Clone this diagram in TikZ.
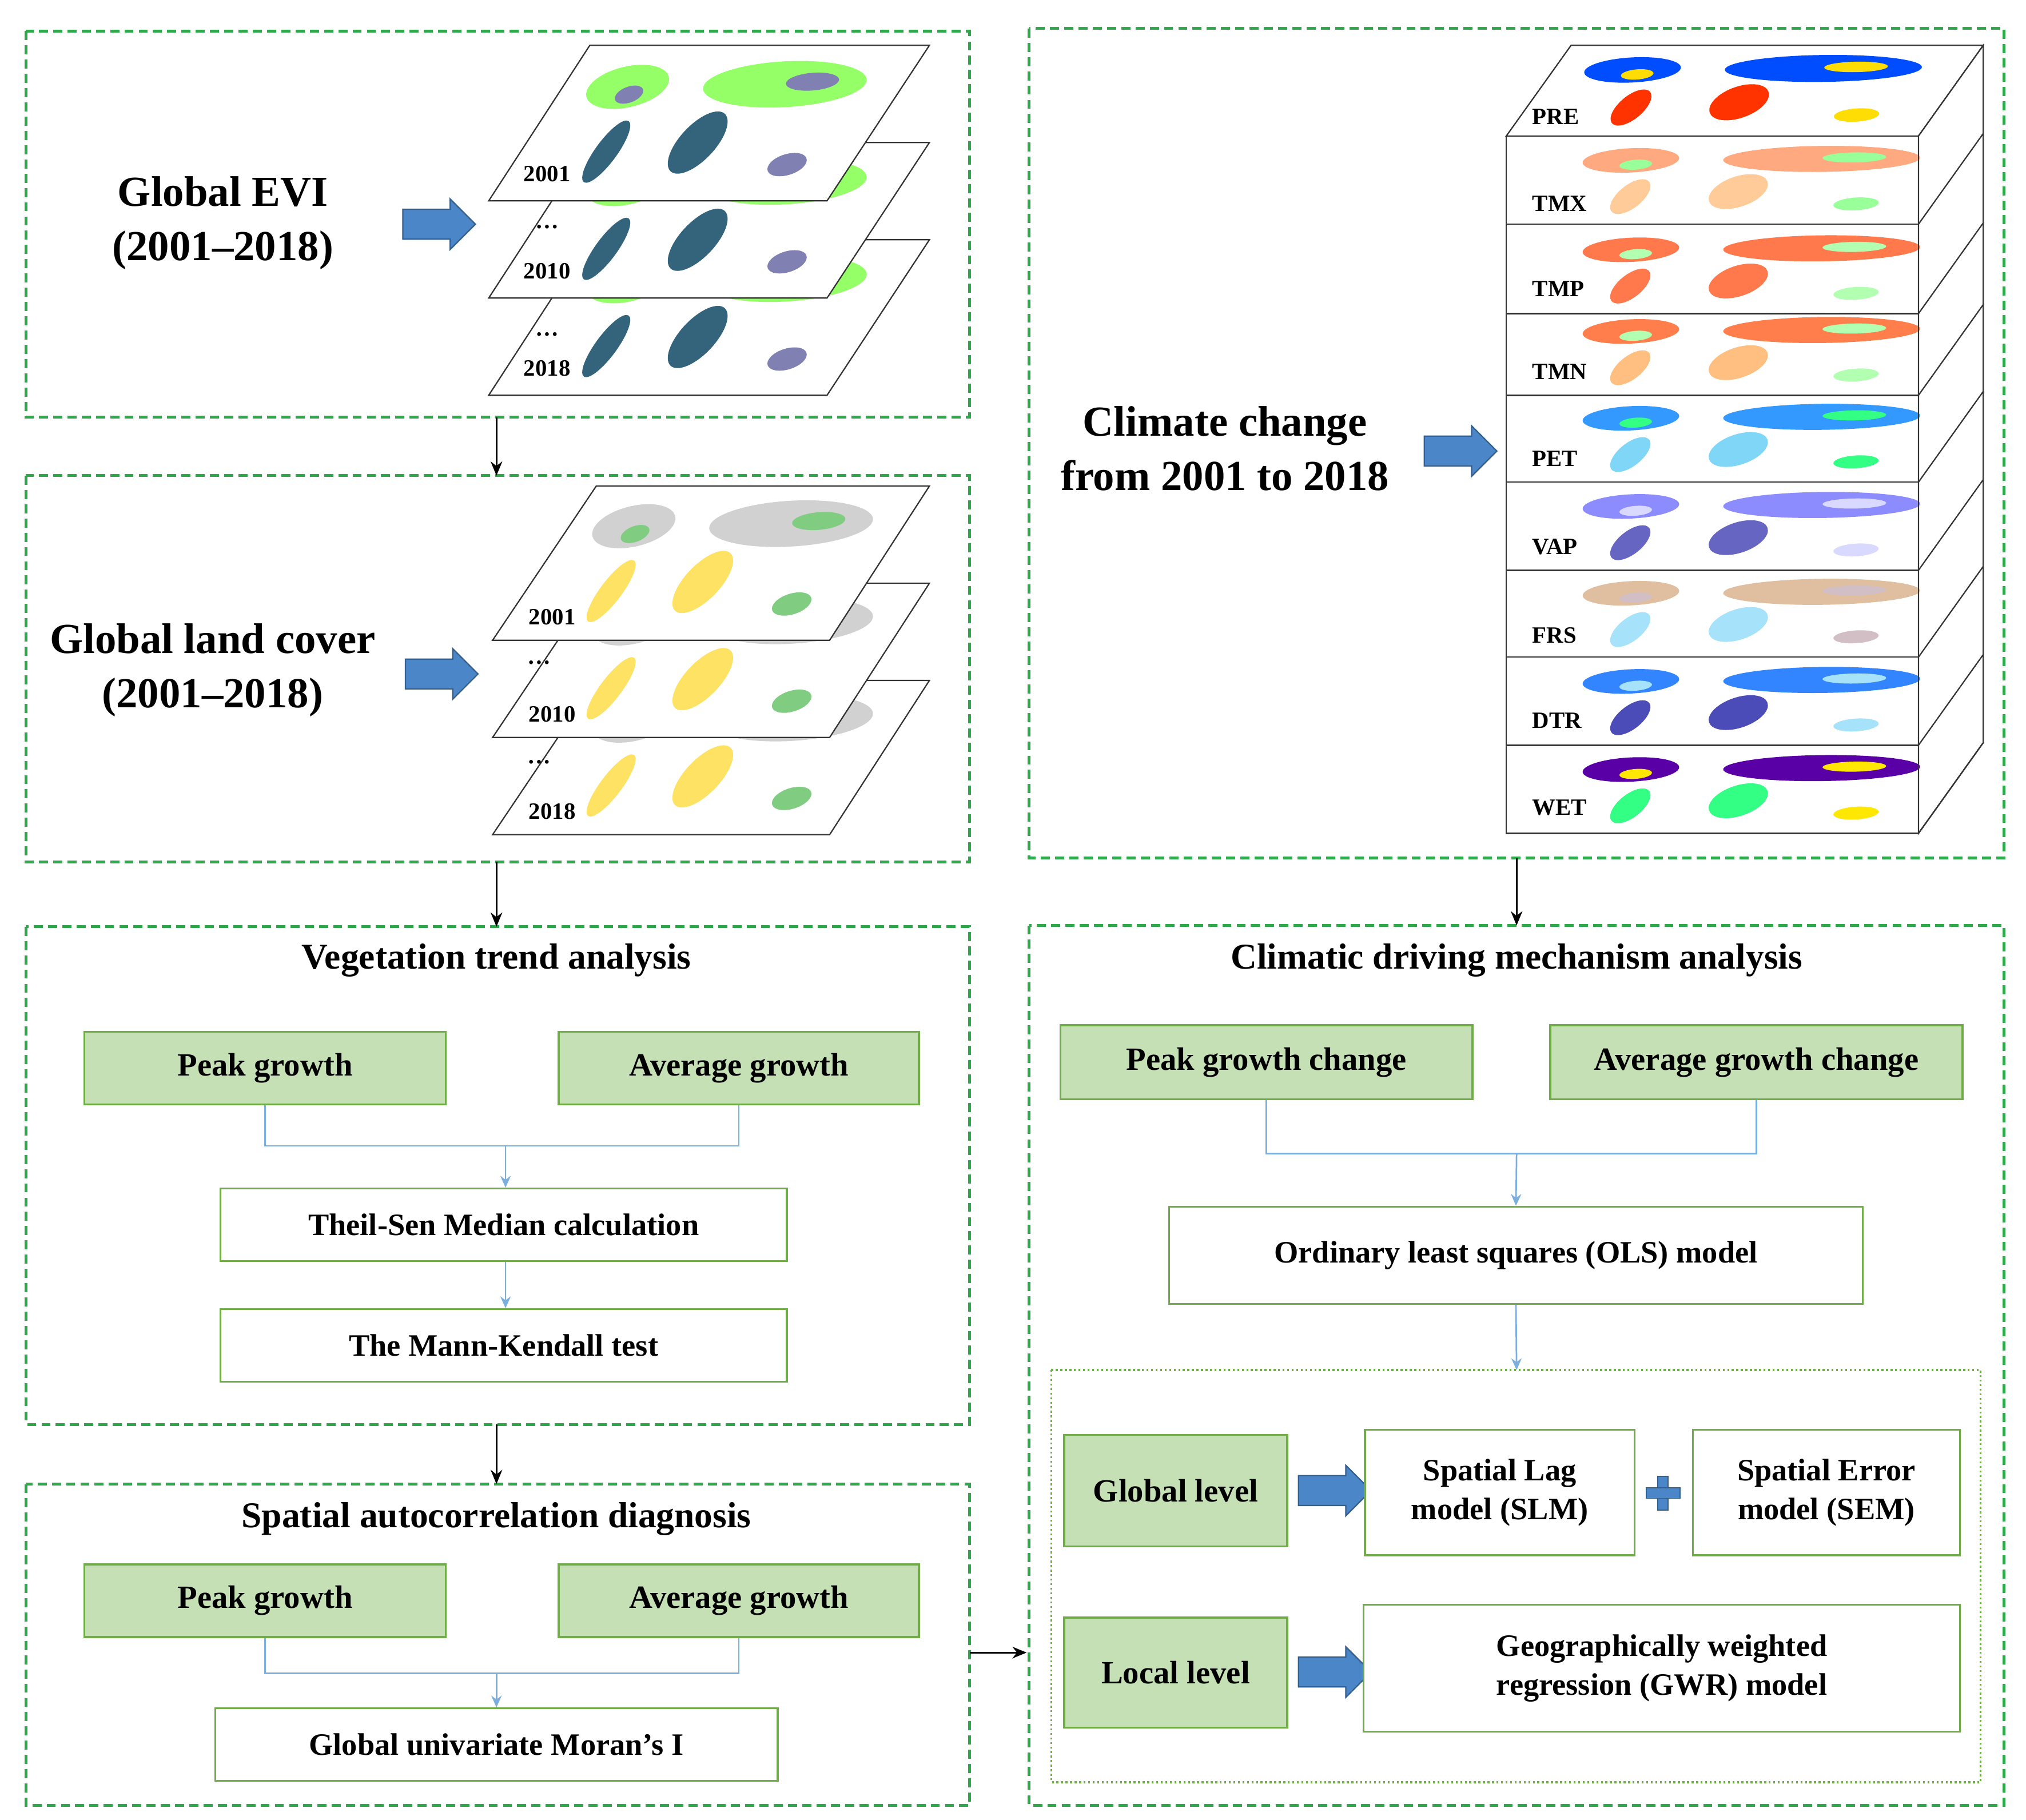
\documentclass[tikz,border=0pt]{standalone}
\usepackage{fontspec}
\setmainfont{Liberation Serif}
\usetikzlibrary{shapes.arrows,arrows.meta}
\definecolor{dgreen}{HTML}{2EA84A}
\definecolor{gfill}{HTML}{C5E0B4}
\definecolor{gdraw}{HTML}{70AD47}
\definecolor{lblue}{HTML}{5B9BD5}
\definecolor{ablue}{HTML}{4A86C8}
\newcommand\myblobs[3]{%
  \fill[#1] (50,-88) ellipse [x radius=30,y radius=17];
  \fill[#1] (170,-90) ellipse [x radius=62,y radius=18];
  \fill[#2] (66,-38) ellipse [x radius=10,y radius=24];
  \fill[#2] (132,-45) ellipse [x radius=17,y radius=24];
  \fill[#3] (212,-28) ellipse [x radius=14,y radius=9];
  \fill[#3] (55,-82) ellipse [x radius=10,y radius=7];
  \fill[#3] (190,-92) ellipse [x radius=20,y radius=7];}
\begin{document}
\begin{tikzpicture}[x=1pt,y=-1pt,
  dbox/.style={draw=dgreen,line width=2.2pt,dash pattern=on 7pt off 4pt},
  gbox/.style={draw=gdraw,fill=gfill,line width=1.5pt,font=\fontsize{25}{28}\selectfont\bfseries},
  wbox/.style={draw=gdraw,fill=white,line width=1.5pt,font=\fontsize{24}{30}\selectfont\bfseries,align=center},
  conn/.style={draw=lblue!80,line width=1.2pt},
  carr/.style={conn,-{Stealth[length=9pt,width=8pt]}},
  barr/.style={black,line width=1.2pt,-{Stealth[length=11pt,width=9pt]}},
  big/.style={single arrow,fill=ablue,draw=ablue!70!black,line width=1pt,minimum height=56pt,inner xsep=0pt,inner ysep=11pt,single arrow head extend=8pt,single arrow head indent=0pt},
  ttl/.style={font=\fontsize{33}{42}\selectfont\bfseries,align=center},
  hd/.style={font=\fontsize{28}{32}\selectfont\bfseries},
  lab/.style={font=\fontsize{18}{20}\selectfont\bfseries,inner sep=0pt},
  para/.style={draw=black!80,line width=1pt}]
\useasboundingbox (0,0) rectangle (1563,1404);
% dashed containers
\draw[dbox] (20,24) rectangle (748,322);
\draw[dbox] (20,367) rectangle (748,665);
\draw[dbox] (20,715) rectangle (748,1099);
\draw[dbox] (20,1145) rectangle (748,1393);
\draw[dbox] (794,22) rectangle (1546,662);
\draw[dbox] (794,714) rectangle (1546,1393);
\coordinate (b1s) at (383,322); \coordinate (b2n) at (383,367);
\coordinate (b2s) at (383,665); \coordinate (b3n) at (383,715);
\coordinate (b3s) at (383,1099); \coordinate (b4n) at (383,1145);
\coordinate (rAs) at (1170,662); \coordinate (rBn) at (1170,714);
\coordinate (b4e) at (748,1275); \coordinate (rBw) at (792,1275);
\draw[barr] (b1s)--(b2n); \draw[barr] (b2s)--(b3n); \draw[barr] (b3s)--(b4n);
\draw[barr] (rAs)--(rBn); \draw[barr] (b4e)--(rBw);
% Global EVI
\node[ttl] (evi) at (172,172) {Global EVI\\(2001–2018)};
\node[big] (a1) at (333,173) {};
\foreach \y/\l in {305/2018,230/2010,155/2001}{
  \draw[para,fill=white] (377,\y)--(455,\y-120)--(717,\y-120)--(638,\y)--cycle;
  \begin{scope}[shift={(377,\y)},xslant=0.65]
  \myblobs{green!60!lime!60!white}{green!40!blue!60!black!80}{blue!40!black!50}
  \end{scope}
  \node[lab] at (422,\y-21) {\l};}
\node[lab] at (422,175) {…}; \node[lab] at (422,258) {…};
% Global land cover
\node[ttl] (lc) at (164,517) {Global land cover\\(2001–2018)};
\node[big] (a2) at (335,520) {};
\foreach \y/\l in {644/2018,569/2010,494/2001}{
  \draw[para,fill=white] (380,\y)--(460,\y-119)--(717,\y-119)--(640,\y)--cycle;
  \begin{scope}[shift={(380,\y)},xslant=0.67]
  \myblobs{black!18}{yellow!70!orange!60!white}{green!60!black!50}
  \end{scope}
  \node[lab] at (426,\y-18) {\l};}
\node[lab] at (416,511) {…}; \node[lab] at (416,588) {…};
% Climate stack
\node[ttl] (cc) at (945,346) {Climate change\\from 2001 to 2018};
\node[big] (a3) at (1121,348) {};
\draw[para,fill=white] (1162,105)--(1212,35)--(1530,35)--(1480,105)--cycle;
\begin{scope}[shift={(1162,105)},xslant=0.714,xscale=1.22,yscale=0.58]
\myblobs{blue!70!cyan}{red!80!yellow}{yellow!80!orange}
\end{scope}
\draw[para,fill=white] (1480,105)--(1530,35)--(1530,573)--(1480,643)--cycle;
\foreach \t/\b/\ca/\cb/\cc [count=\i] in {105/173/red!35!orange!50!white/orange!40!white/green!40!white,
  173/242/red!50!orange!70!white/red!50!orange!70!white/green!30!white,
  242/305/red!45!orange!70!white/orange!50!white/green!30!white,
  305/372/blue!50!cyan!80!white/cyan!50!white/green!60!cyan!80!white,
  372/440/blue!45!white/blue!60!black!60/blue!15!white,
  440/507/brown!50!white/cyan!35!white/blue!25!brown!40!white,
  507/575/blue!60!cyan!80!white/blue!60!black!70/cyan!35!white,
  575/643/violet!70!blue/green!60!cyan!80!white/yellow!90!orange}{
  \begin{scope}[shift={(1162,\b)},xslant=0.714,xscale=1.22,yscale=0.56]
  \myblobs{\ca}{\cb}{\cc}
  \end{scope}
  \draw[para] (1162,\t) rectangle (1480,\b);
  \draw[para] (1480,\b)--(1530,\b-70);}
\foreach \l/\y in {PRE/90,TMX/157,TMP/223,TMN/287,PET/354,VAP/422,FRS/490,DTR/556,WET/623}
  \node[lab,anchor=west] at (1182,\y) {\l};
% Vegetation trend
\node[hd] (vt) at (383,741) {Vegetation trend analysis};
\node[gbox,minimum width=279pt,minimum height=56pt] (pg1) at (204.5,824) {Peak growth};
\node[gbox,minimum width=278pt,minimum height=56pt] (ag1) at (570,824) {Average growth};
\node[wbox,minimum width=437pt,minimum height=56pt] (ts) at (388.5,945) {Theil-Sen Median calculation};
\node[wbox,minimum width=437pt,minimum height=56pt] (mk) at (388.5,1038) {The Mann-Kendall test};
\coordinate (j1) at (390,884);
\draw[conn] (pg1.south) |- (j1) -| (ag1.south);
\draw[carr] (j1)--(ts.north-|j1);
\draw[carr] (ts.south-|j1)--(mk.north-|j1);
% Spatial autocorrelation
\node[hd] (sa) at (383,1172) {Spatial autocorrelation diagnosis};
\node[gbox,minimum width=279pt,minimum height=56pt] (pg2) at (204.5,1235) {Peak growth};
\node[gbox,minimum width=278pt,minimum height=56pt] (ag2) at (570,1235) {Average growth};
\node[wbox,minimum width=434pt,minimum height=56pt] (mi) at (383,1346) {Global univariate Moran’s I};
\coordinate (j2) at (383,1291);
\draw[conn] (pg2.south) |- (j2) -| (ag2.south);
\draw[carr] (j2)--(mi.north);
% Climatic driving
\node[hd] (cd) at (1170,741) {Climatic driving mechanism analysis};
\node[gbox,minimum width=318pt,minimum height=57pt] (pgc) at (977,819.5) {Peak growth change};
\node[gbox,minimum width=318pt,minimum height=57pt] (agc) at (1355,819.5) {Average growth change};
\node[wbox,minimum width=535pt,minimum height=75pt] (ols) at (1169.5,968.5) {Ordinary least squares (OLS) model};
\coordinate (j3) at (1170,890);
\draw[conn] (pgc.south) |- (j3) -| (agc.south);
\draw[carr] (j3)--(ols.north);
\draw[gdraw,line width=1.5pt,dotted] (811,1057) rectangle (1528,1375);
\coordinate (dt) at (1170,1057);
\draw[carr] (ols.south)--(dt);
\node[gbox,minimum width=172pt,minimum height=86pt] (gl) at (907,1150) {Global level};
\node[gbox,minimum width=172pt,minimum height=85pt] (ll) at (907,1290.5) {Local level};
\node[big] (a4) at (1024,1150) {};
\node[big] (a5) at (1024,1290) {};
\node[wbox,minimum width=208pt,minimum height=97pt] (slm) at (1157,1151.5) {Spatial Lag\\model (SLM)};
\node[wbox,minimum width=206pt,minimum height=97pt] (sem) at (1409,1151.5) {Spatial Error\\model (SEM)};
\node[wbox,minimum width=460pt,minimum height=98pt] (gwr) at (1282,1287) {Geographically weighted\\regression (GWR) model};
\node[inner sep=0pt] (plus) at (1283,1152) {};
\fill[ablue,draw=ablue!70!black,line width=0.8pt] (1279,1139) rectangle (1287,1165);
\fill[ablue,draw=ablue!70!black,line width=0.8pt] (1270,1148) rectangle (1296,1156);
\fill[ablue] (1279.5,1148.5) rectangle (1286.5,1155.5);
\end{tikzpicture}
\end{document}
